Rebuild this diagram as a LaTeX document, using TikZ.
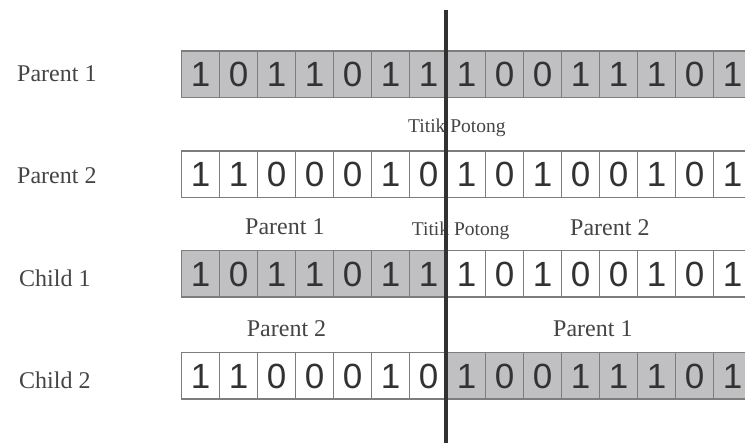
\documentclass[tikz,border=0pt]{standalone}
\usepackage{fontspec}
\setmainfont{Liberation Serif}
\newfontfamily\digitfont{Liberation Sans}
\definecolor{cellgray}{RGB}{192,192,194}
\definecolor{cellline}{RGB}{125,125,125}
\definecolor{ink}{RGB}{50,50,50}
\definecolor{labelink}{RGB}{68,68,68}

\begin{document}
\begin{tikzpicture}[x=1pt,y=-1pt,
  bit/.style={draw=cellline, line width=1.3pt, minimum width=38pt,
    minimum height=46.5pt, inner sep=0pt, anchor=north west,
    font=\digitfont\fontsize{35}{35}\selectfont, text=ink,
    text height=25pt, text depth=-2pt},
  on/.style={bit, fill=cellgray},
  off/.style={bit, fill=white},
  rowlabel/.style={anchor=base west, inner sep=0pt, text=labelink,
    font=\fontsize{24}{24}\selectfont},
  cutlabel/.style={anchor=base west, inner sep=0pt, text=labelink,
    font=\fontsize{19.5}{19.5}\selectfont},
  cutline/.style={draw=ink, line width=3.5pt}]
\useasboundingbox (0,0) rectangle (745,443);

% Parent 1 : all genes shaded
\foreach \b [count=\i] in {1,0,1,1,0,1,1}
  \node[on] (pa\i) at ({181+(\i-1)*38}, 50.5) {\b};
\foreach \b [count=\i from 8] in {1,0,0,1,1,1,0,1}
  \node[on] (pa\i) at ({181+(\i-1)*38}, 50.5) {\b};

% Parent 2 : all genes plain
\foreach \b [count=\i] in {1,1,0,0,0,1,0}
  \node[off] (pb\i) at ({181+(\i-1)*38}, 150.5) {\b};
\foreach \b [count=\i from 8] in {1,0,1,0,0,1,0,1}
  \node[off] (pb\i) at ({181+(\i-1)*38}, 150.5) {\b};

% Child 1 : head of parent 1, tail of parent 2
\foreach \b [count=\i] in {1,0,1,1,0,1,1}
  \node[on] (ca\i) at ({181+(\i-1)*38}, 250) {\b};
\foreach \b [count=\i from 8] in {1,0,1,0,0,1,0,1}
  \node[off] (ca\i) at ({181+(\i-1)*38}, 250) {\b};

% Child 2 : head of parent 2, tail of parent 1
\foreach \b [count=\i] in {1,1,0,0,0,1,0}
  \node[off] (cb\i) at ({181+(\i-1)*38}, 352) {\b};
\foreach \b [count=\i from 8] in {1,0,0,1,1,1,0,1}
  \node[on] (cb\i) at ({181+(\i-1)*38}, 352) {\b};

% row names
\node[rowlabel] (lpa) at (17,81.7) {Parent 1};
\node[rowlabel] (lpb) at (17,184) {Parent 2};
\node[rowlabel] (lca) at (19,286.7) {Child 1};
\node[rowlabel] (lcb) at (19,389) {Child 2};

% origin of each half of the offspring
\node[rowlabel] (oa1) at (245,235) {Parent 1};
\node[rowlabel] (oa2) at (570,236) {Parent 2};
\node[rowlabel] (ob1) at (246.7,336.7) {Parent 2};
\node[rowlabel] (ob2) at (553,337) {Parent 1};

% crossover point
\node[cutlabel] (tp1) at (408,133) {Titik Potong};
\node[cutlabel] (tp2) at (411.7,236) {Titik Potong};
\coordinate (cuttop) at (446,10);
\coordinate (cutbot) at (446,443);
\draw[cutline] (cuttop) -- (cutbot);
\end{tikzpicture}
\end{document}
